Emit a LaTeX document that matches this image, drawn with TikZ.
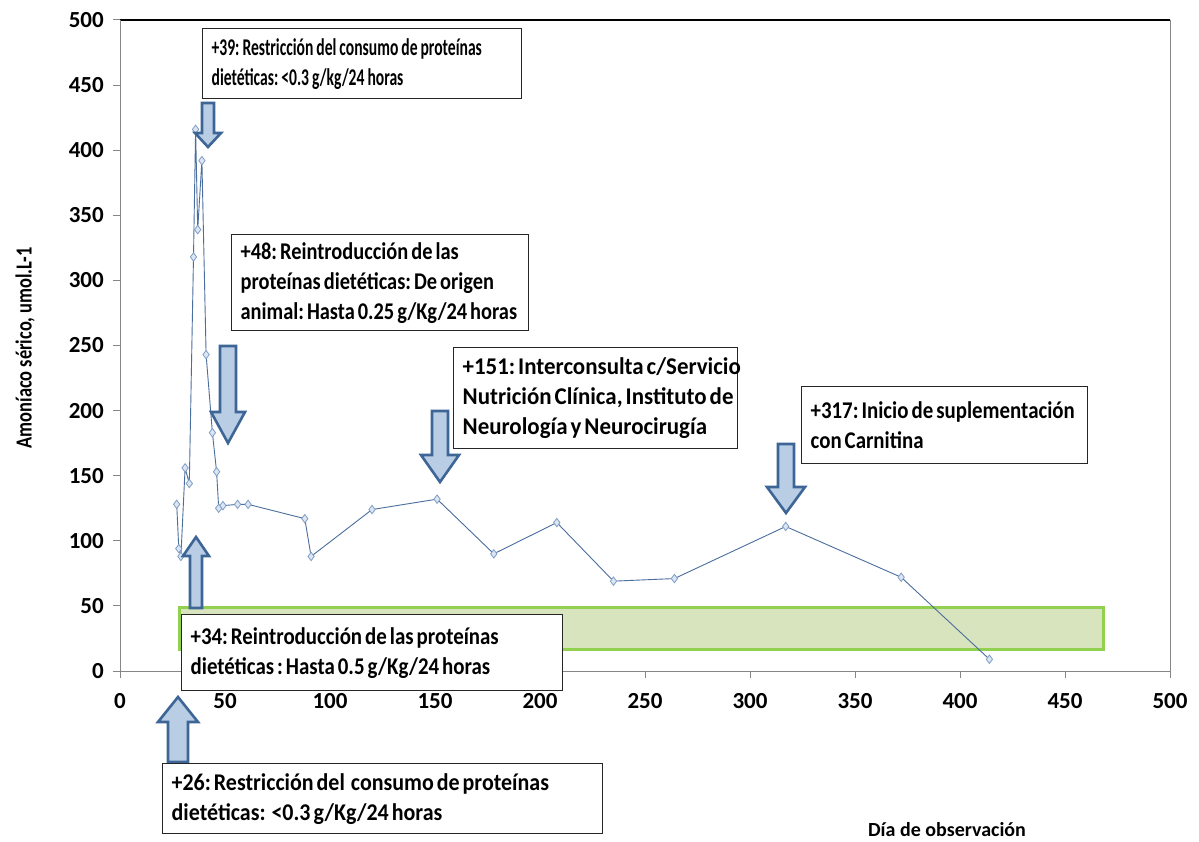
\documentclass[tikz,border=0pt]{standalone}
\usepackage{fontspec}
\setmainfont{Carlito}
\newfontfamily\labA[FakeStretch=0.65]{Carlito}
\newfontfamily\labB[FakeStretch=0.85]{Carlito}
\newfontfamily\labD[FakeStretch=0.87]{Carlito}
\newfontfamily\labC[FakeStretch=0.955]{Carlito}
\newfontfamily\labE[FakeStretch=0.915]{Carlito}
\newfontfamily\labY[FakeStretch=0.80]{Carlito}
\newfontfamily\ticf{Carlito}
\usetikzlibrary{plotmarks}
\definecolor{axisgray}{HTML}{868686}
\definecolor{arrowfill}{HTML}{B9CDE5}
\definecolor{arrowline}{HTML}{3D6696}
\definecolor{rangefill}{HTML}{D7E4BD}
\definecolor{rangeline}{HTML}{92D050}
\definecolor{dataline}{HTML}{4A6E9E}
\definecolor{markfill}{HTML}{DCE6F2}
\definecolor{markline}{HTML}{7F9DC7}
\newcommand{\blockarr}[6]{%
  \draw[barrow] ({#1-#5},#2) -- ({#1+#5},#2) -- ({#1+#5},#3) -- ({#1+#6},#3) -- (#1,#4) -- ({#1-#6},#3) -- ({#1-#5},#3) -- cycle;}
\newcommand{\labfont}[1]{#1\bfseries\fontsize{24}{30}\selectfont}
\newcommand{\boxline}[1]{\mbox{\spaceskip=3pt\xspaceskip=3pt\relax #1}}
\begin{document}
\begin{tikzpicture}[x=1pt,y=-1pt,
  axisline/.style={draw=axisgray, line width=1pt},
  ticklab/.style={font=\ticf\bfseries\fontsize{23}{26}\selectfont, inner sep=0pt},
  barrow/.style={fill=arrowfill, draw=arrowline, line width=2.6pt, line join=miter},
  notebox/.style={draw=black!85, line width=1.3pt, fill=white, anchor=north west,
    align=left, inner xsep=9pt, inner ysep=0pt},
  rangebox/.style={draw=rangeline, fill=rangefill, line width=3pt, anchor=north west, inner sep=0pt},
  series/.style={draw=dataline, line width=0.9pt},
  axtitle/.style={font=\labY\bfseries\fontsize{23}{26}\selectfont, inner sep=0pt}]
\useasboundingbox (0,0) rectangle (1199,842);
\fill[white] (0,0) rectangle (1199,842);

% plot frame and axes
\draw[axisline] (1170,20) -- (1170,671);
\draw[black, line width=1.3pt] (120,20) -- (1170,20);
\draw[axisline] (120,20) -- (120,671) -- (1170,671);
\foreach \v in {0,50,...,500} {
  \draw[axisline] (113,{671-1.302*\v}) -- (120,{671-1.302*\v});
  \node[ticklab, anchor=east] at (104,{671-1.302*\v}) {\v};
  \draw[axisline] ({120+2.1*\v},671) -- ({120+2.1*\v},678);
  \node[ticklab] at ({120+2.1*\v},701) {\v};
}

% normal range band
\node[rangebox, minimum width=924pt, minimum height=42pt] (range) at (178,606) {};

% data series
\begin{scope}[shift={(120,671)}, x=2.1pt, y=1.302pt]
\draw[series] plot[mark=diamond*, mark size=4.2pt, mark options={fill=markfill, draw=markline, line width=0.8pt}] coordinates {
 (27,128) (28,94) (29,88) (31,156) (33,144) (35,318) (36,416) (37,339) (39,392)
 (41,243) (44,183) (46,153) (47,125) (49,127) (56,128) (61,128) (88,117) (91,88)
 (120,124) (151,132) (178,90) (208,114) (235,69) (264,71) (317,111) (372,72) (414,9)};
\end{scope}

% block arrows: x, tail, head base, tip, half shaft, half head
\blockarr{208}{103}{133}{147}{6}{13}
\blockarr{228}{346}{412}{443}{8}{17}
\blockarr{440}{411}{455}{482}{8}{19}
\blockarr{786}{444}{487}{513}{8}{19}
\blockarr{196}{608}{556}{537}{6}{13}
\blockarr{178}{762}{722}{697}{10}{20}

% annotation boxes
\node[notebox, font=\labfont\labA, text width=301pt, minimum height=70pt] (n39) at (202,28)
  {\boxline{+39: Restricción del consumo de proteínas}\\\boxline{dietéticas: <0.3 g/kg/24 horas}};
\node[notebox, font=\labfont\labB, text width=279pt, minimum height=96pt] (n48) at (231,234)
  {\boxline{+48: Reintroducción de las}\\\boxline{proteínas dietéticas: De origen}\\\boxline{animal: Hasta 0.25 g/Kg/24 horas}};
\node[notebox, font=\labfont\labC, text width=266pt, minimum height=101pt] (n151) at (453,347)
  {\boxline{+151: Interconsulta c/Servicio}\\\boxline{Nutrición Clínica, Instituto de}\\\boxline{Neurología y Neurocirugía}};
\node[notebox, font=\labfont\labD, text width=268pt, minimum height=77pt] (n317) at (801,386)
  {\boxline{+317: Inicio de suplementación}\\\boxline{con Carnitina}};
\node[notebox, font=\labfont\labD, text width=363pt, minimum height=76pt] (n34) at (181,614)
  {\boxline{+34: Reintroducción de las proteínas}\\\boxline{dietéticas : Hasta 0.5 g/Kg/24 horas}};
\node[notebox, font=\labfont\labE, text width=422pt, minimum height=70pt] (n26) at (162,763)
  {\boxline{+26: Restricción del\ \ consumo de proteínas}\\\boxline{dietéticas:\ \ <0.3 g/Kg/24 horas}};

% axis titles
\node[axtitle, rotate=90] (ytitle) at (25,348) {Amoníaco sérico, umol.L-1};
\node[font=\ticf\bfseries\fontsize{20}{24}\selectfont, inner sep=0pt] (xtitle) at (947,830) {Día de observación};
\end{tikzpicture}
\end{document}
